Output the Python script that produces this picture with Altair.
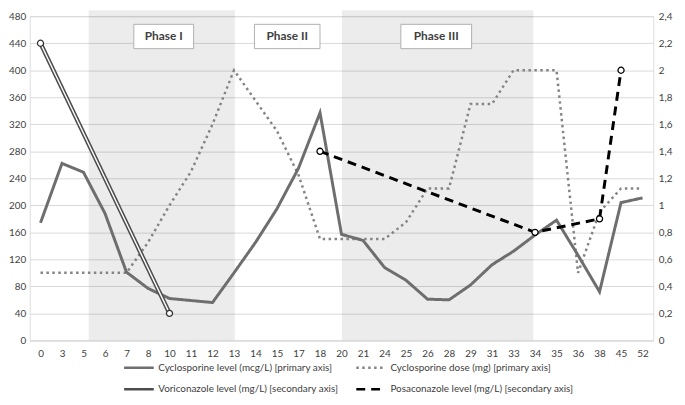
import json
import altair as alt
import pandas as pd

# ---- data ----
categories = ["0", "3", "5", "6", "7", "8", "10", "11", "12", "13", "14", "15", "17", "18",
              "20", "21", "24", "25", "26", "28", "29", "31", "33", "34", "35", "36", "38", "45", "52"]
cyclosporine_level = [174, 262, 249, 188, 101, 77, 62, 59, 56, 100, 145, 195, 255, 337,
                      157, 148, 108, 89, 61, 60, 82, 112, 132, 156, 178, 126, 72, 204, 211]
cyclosporine_dose = [100, 100, 100, 100, 100, 145, 200, 250, 320, 400, 355, 310, 245, 150,
                     150, 150, 150, 175, 225, 225, 350, 350, 400, 400, 400, 100, 190, 225, 225]
voriconazole_level = [2.2, None, None, None, None, None, 0.2] + [None] * 22
posaconazole_level = [None] * 13 + [1.4] + [None] * 9 + [0.8, None, None, 0.9, 2.0, None]

series_names = ["Cyclosporine level (mcg/L) [primary axis]",
                "Cyclosporine dose (mg) [primary axis]",
                "Voriconazole level (mg/L) [secondary axis]",
                "Posaconazole level (mg/L) [secondary axis]"]

phase_names = ["Phase I", "Phase II", "Phase III"]
shade_start = [2.24, None, 14.02]
shade_end = [9.04, None, 22.92]
box_start = [4.34, 9.95, 16.76]
box_end = [7.12, 13.0, 20.05]
box_low = [432, 432, 432]
box_high = [468, 468, 468]
shade_top = 489

primary_ticks = list(range(0, 481, 40))
secondary_ticks = [round(i * 0.2, 1) for i in range(13)]


def series_frame(values, name):
    rows = [{"idx": i, "value": v, "series": name} for i, v in enumerate(values) if v is not None]
    return pd.DataFrame(rows)


level_df = series_frame(cyclosporine_level, series_names[0])
dose_df = series_frame(cyclosporine_dose, series_names[1])
vori_df = series_frame(voriconazole_level, series_names[2])
posa_df = series_frame(posaconazole_level, series_names[3])

shade_df = pd.DataFrame({"x0": shade_start, "x1": shade_end, "name": phase_names}).dropna()
shade_df["y0"] = 0
shade_df["y1"] = shade_top
box_df = pd.DataFrame({"name": phase_names, "x0": box_start, "x1": box_end,
                       "y0": box_low, "y1": box_high})
box_df["xm"] = (box_df["x0"] + box_df["x1"]) / 2
box_df["ym"] = (box_df["y0"] + box_df["y1"]) / 2

# ---- scales / axes ----
FONT = "Lato"
TXT = "#404040"
xscale = alt.Scale(domain=[-0.5, len(categories) - 0.5], nice=False, zero=False)
xaxis = alt.Axis(values=list(range(len(categories))),
                 labelExpr=json.dumps(categories) + "[datum.value]",
                 grid=False, ticks=False, domain=True, domainColor="#d9d9d9",
                 labelPadding=8, labelFontSize=10, labelColor=TXT, title=None,
                 labelFont=FONT)
yscale1 = alt.Scale(domain=[0, 480], nice=False, zero=True)
yaxis1 = alt.Axis(values=primary_ticks, grid=True, gridColor="#d9d9d9", domain=False,
                  ticks=False, labelPadding=4, labelFontSize=10, labelColor=TXT,
                  title=None, labelFont=FONT)
yscale2 = alt.Scale(domain=[0, 2.4], nice=False, zero=True)
yaxis2 = alt.Axis(values=secondary_ticks, orient="right", grid=False, domain=False,
                  ticks=False, labelPadding=5, labelFontSize=10, labelColor=TXT,
                  title=None, labelFont=FONT,
                  labelExpr="replace(format(datum.value, '.1~f'), '.', ',')")

color_scale = alt.Scale(domain=series_names,
                        range=["#6e6e6e", "#848484", "#4d4d4d", "#000000"])
dash_scale = alt.Scale(domain=series_names,
                       range=[[1, 0], [2.5, 3.5], [1, 0], [9, 6]])

legend = alt.Legend(orient="none", legendX=94, legendY=339, columns=2,
                    direction="horizontal",
                    symbolType="stroke", symbolSize=900, symbolStrokeWidth=2.5,
                    labelFontSize=10, labelColor=TXT, labelLimit=400,
                    columnPadding=12, rowPadding=-9, labelFont=FONT, labelOffset=3,
                    padding=0)
color_enc = alt.Color("series:N", scale=color_scale, title=None, legend=legend)
dash_enc = alt.StrokeDash("series:N", scale=dash_scale, title=None, legend=legend)

X = alt.X("idx:Q", scale=xscale, axis=xaxis)
Y1 = alt.Y("value:Q", scale=yscale1, axis=yaxis1)
Y2 = alt.Y("value:Q", scale=yscale2, axis=yaxis2)

# ---- primary layers ----
shade = alt.Chart(shade_df).mark_rect(color="#000000", opacity=0.075).encode(
    x=alt.X("x0:Q", scale=xscale, axis=xaxis), x2="x1:Q",
    y=alt.Y("y0:Q", scale=yscale1, axis=yaxis1), y2="y1:Q")

boxes = alt.Chart(box_df).mark_rect(fill="white", stroke="#b0b0b0", strokeWidth=1).encode(
    x=alt.X("x0:Q", scale=xscale, axis=xaxis), x2="x1:Q",
    y=alt.Y("y0:Q", scale=yscale1, axis=yaxis1), y2="y1:Q")

box_text = alt.Chart(box_df).mark_text(fontSize=12, fontWeight="bold", color=TXT,
                                       font=FONT).encode(
    x=alt.X("xm:Q", scale=xscale, axis=xaxis),
    y=alt.Y("ym:Q", scale=yscale1, axis=yaxis1),
    text="name:N")

dose_line = alt.Chart(dose_df).mark_line(strokeWidth=2.5).encode(
    x=X, y=Y1, color=color_enc, strokeDash=dash_enc)
level_line = alt.Chart(level_df).mark_line(strokeWidth=3).encode(
    x=X, y=Y1, color=color_enc, strokeDash=dash_enc)

primary = alt.layer(shade, boxes, box_text, dose_line, level_line)

# ---- secondary layers ----
vori_outer = alt.Chart(vori_df).mark_line(strokeWidth=4.5).encode(
    x=X, y=Y2, color=color_enc, strokeDash=dash_enc)
vori_inner = alt.Chart(vori_df).mark_line(strokeWidth=1.4, color="white").encode(
    x=X, y=Y2)
vori_pts = alt.Chart(vori_df).mark_point(shape="circle", filled=True, fill="white",
                                         stroke="#333333", strokeWidth=1.3, size=38,
                                         opacity=1).encode(x=X, y=Y2)
posa_line = alt.Chart(posa_df).mark_line(strokeWidth=3).encode(
    x=X, y=Y2, color=color_enc, strokeDash=dash_enc)
posa_pts = alt.Chart(posa_df).mark_point(shape="circle", filled=True, fill="white",
                                         stroke="#000000", strokeWidth=1.3, size=38,
                                         opacity=1).encode(x=X, y=Y2)

secondary = alt.layer(vori_outer, vori_inner, vori_pts, posa_line, posa_pts)

chart = alt.layer(primary, secondary).resolve_scale(y="independent").properties(
    width=631, height=328,
    autosize=alt.AutoSizeParams(type="none"),
    padding={"left": 22, "right": 24, "top": 6, "bottom": 56},
).configure_view(stroke=None).configure(font=FONT)

chart.save("out.html", embed_options={"renderer": "svg", "actions": False})
